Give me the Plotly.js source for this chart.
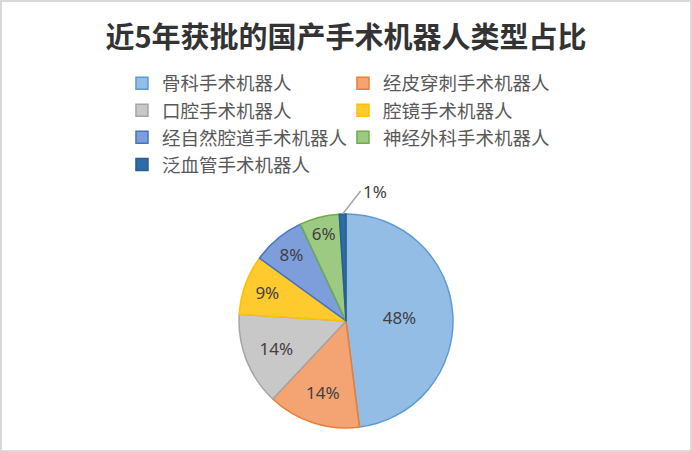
<!DOCTYPE html>
<html>
<head>
<meta charset="utf-8">
<script src="https://cdn.plot.ly/plotly-3.0.1.min.js"></script>
<style>
  body { margin: 0; background: #fff; }
  #chart { width: 692px; height: 452px; box-sizing: border-box; border: 2px solid #d9d9d9; }
</style>
</head>
<body>
<div id="chart"></div>
<script>
// 类型与占比
const leixing = ["骨科手术机器人", "经皮穿刺手术机器人", "口腔手术机器人", "腔镜手术机器人",
                 "经自然腔道手术机器人", "神经外科手术机器人", "泛血管手术机器人"];
const zhanbi = [48, 14, 14, 9, 8, 6, 1];

// 颜色 (填充 / 边线)
const tianchong = ["#93bde4", "#f3a472", "#c8c8c8", "#ffca2e", "#7d9edb", "#9dca83", "#2e6ca3"];
const bianxian = ["#5b9bd5", "#ed7d31", "#a5a5a5", "#ffc000", "#4472c4", "#70ad47", "#255e91"];

const W = 688, H = 448;
const ML = 90, MR = 90;          // 左右边距, 让图例只排两列
const PW = W - ML - MR, PH = H;  // 绘图区大小
const dom = { x: [0.2894, 0.7106], y: [0.049, 0.527] };

// 小于3%的扇区标签放到外面, 用引线标注
const xiao = zhanbi.map(v => v < 3);
const wenzi = zhanbi.map((v, i) => xiao[i] ? "" : v + "%");

var trace = {
    type: "pie",
    labels: leixing,
    values: zhanbi,
    sort: false,
    direction: "clockwise",
    rotation: 0,
    text: wenzi,
    textinfo: "text",
    textposition: "inside",
    insidetextorientation: "horizontal",
    textfont: { family: "Noto Sans, DejaVu Sans, sans-serif", size: 17, color: "#404040" },
    marker: { colors: tianchong, line: { color: bianxian, width: 1.5 } },
    domain: dom,
    hoverinfo: "label+percent"
};

// 计算小扇区的中点位置 (饼图中心 + 半径)
let zong = zhanbi.reduce((a, b) => a + b, 0);
let cx = (dom.x[0] + dom.x[1]) / 2 * PW;
let cy = (1 - (dom.y[0] + dom.y[1]) / 2) * PH;
let r = Math.min((dom.x[1] - dom.x[0]) * PW, (dom.y[1] - dom.y[0]) * PH) / 2;
let leiji = 0;
let zhushi = [];
zhanbi.forEach((v, i) => {
    let zhong = (leiji + v / 2) / zong * 2 * Math.PI;
    leiji += v;
    if (!xiao[i]) return;
    let px = cx + r * Math.sin(zhong);
    let py = cy - r * Math.cos(zhong);
    zhushi.push({
        x: px / PW, y: 1 - py / PH, xref: "paper", yref: "paper",
        text: v + "%",
        showarrow: true, arrowhead: 0, arrowwidth: 1.5, arrowcolor: "#a6a6a6",
        ax: 18, ay: -23, xanchor: "left",
        font: { family: "Noto Sans, DejaVu Sans, sans-serif", size: 17, color: "#404040" }
    });
});

var layout = {
    width: W,
    height: H,
    margin: { l: ML, r: MR, t: 0, b: 0 },
    paper_bgcolor: "#fff",
    title: {
        text: "<b>近5年获批的国产手术机器人类型占比</b>",
        font: { family: "Noto Sans CJK SC, sans-serif", size: 29, color: "#333" },
        x: 0.5, xanchor: "center",
        y: 0.92, yanchor: "middle"
    },
    annotations: zhushi,
    showlegend: true,
    legend: {
        orientation: "h",
        x: 0.059, xanchor: "left",
        y: 0.86, yanchor: "top",
        entrywidth: 176,
        entrywidthmode: "pixels",
        traceorder: "normal",
        font: { family: "Noto Sans CJK SC, sans-serif", size: 18.5, color: "#595959" }
    }
};

Plotly.newPlot("chart", [trace], layout, { displayModeBar: false, staticPlot: true });
</script>
</body>
</html>
